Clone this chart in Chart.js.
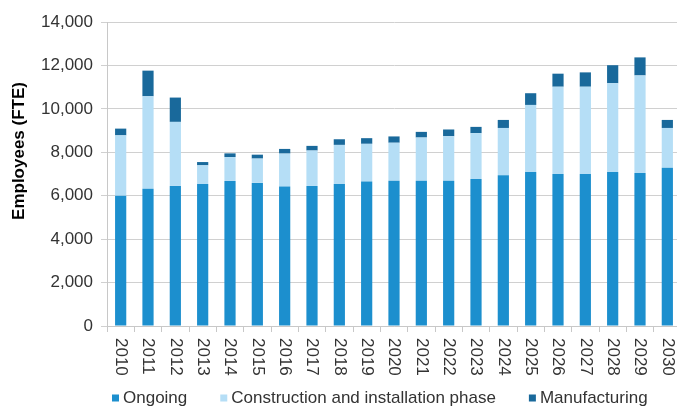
<!DOCTYPE html>
<html>
<head>
<meta charset="utf-8">
<script src="https://cdn.jsdelivr.net/npm/chart.js@4"></script>
<style>
  html, body { margin: 0; padding: 0; background: #fff; overflow: hidden; }
  #wrap { width: 677px; height: 408px; overflow: hidden; }
</style>
</head>
<body>
<div id="wrap"><canvas id="chart" width="681" height="408"></canvas></div>
<script>
// years on the category axis
var years = ['2010','2011','2012','2013','2014','2015','2016','2017','2018','2019','2020',
             '2021','2022','2023','2024','2025','2026','2027','2028','2029','2030'];
// employees (FTE) per year
var ongoing = [6000,6320,6450,6540,6680,6590,6420,6450,6540,6650,6690,6690,6690,6770,6940,7090,7000,7000,7090,7050,7290];
var construction = [2780,4260,2950,860,1100,1120,1520,1630,1800,1740,1750,1990,2050,2110,2180,3090,4020,4020,4090,4490,1830];
var manufacturing = [310,1180,1120,150,170,180,215,215,260,260,290,260,310,290,370,540,600,660,830,830,370];
var yTicks = [0,2000,4000,6000,8000,10000,12000,14000];
var yTitle = 'Employees (FTE)';

var FONT = "'Liberation Sans', Arial, sans-serif";
var textColor = '#333333';

// x labels read top-to-bottom, y title a bit above centre, legend under the plot
var extraText = {
  id: 'extraText',
  afterDraw: function(chart) {
    var ctx = chart.ctx;
    var xs = chart.scales.x;
    var area = chart.chartArea;
    ctx.save();
    ctx.fillStyle = textColor;
    ctx.font = '17px ' + FONT;
    ctx.textAlign = 'left';
    ctx.textBaseline = 'middle';
    for (var i = 0; i < years.length; i++) {
      ctx.save();
      ctx.translate(xs.getPixelForTick(i), xs.top + 12);
      ctx.rotate(Math.PI / 2);
      ctx.fillText(years[i], 0, 0);
      ctx.restore();
    }

    // legend
    var x = area.left + 5;
    var y = chart.height - 10;
    chart.data.datasets.forEach(function(ds) {
      ctx.fillStyle = ds.backgroundColor;
      ctx.fillRect(x, y - 3.5, 7, 7);
      x += 11;
      ctx.fillStyle = textColor;
      ctx.fillText(ds.label, x, y);
      x += ctx.measureText(ds.label).width + 33;
    });

    ctx.font = 'bold 17px ' + FONT;
    ctx.fillStyle = '#000';
    ctx.textAlign = 'center';
    ctx.translate(19, 151);
    ctx.rotate(-Math.PI / 2);
    ctx.fillText(yTitle, 0, 0);
    ctx.restore();
  }
};

const CHART = document.getElementById('chart');
var barChart = new Chart(CHART, {
  type: 'bar',
  data: {
    labels: years,
    datasets: [
      { label: 'Ongoing', data: ongoing, backgroundColor: '#1C8FCE' },
      { label: 'Construction and installation phase', data: construction, backgroundColor: '#B5DEF6' },
      { label: 'Manufacturing', data: manufacturing, backgroundColor: '#19699B' }
    ]
  },
  options: {
    responsive: false,
    animation: false,
    layout: { padding: { top: 22, left: 0, right: 0, bottom: 24 } },
    datasets: { bar: { categoryPercentage: 1, barPercentage: 0.41 } },
    scales: {
      x: {
        stacked: true,
        grid: { display: true, drawOnChartArea: false, offset: true, color: '#c8c8c8', tickLength: 6 },
        border: { color: '#c8c8c8' },
        ticks: { display: false },
        afterFit: function(s) { s.height = 58; }
      },
      y: {
        stacked: true,
        min: 0,
        max: 14000,
        afterBuildTicks: function(s) { s.ticks = yTicks.map(function(v) { return { value: v }; }); },
        grid: { color: '#d0d0d0', tickLength: 6 },
        border: { color: '#c8c8c8' },
        ticks: {
          color: textColor,
          font: { family: FONT, size: 17 },
          padding: 8,
          callback: function(v) { return v.toLocaleString('en-US'); }
        },
        afterFit: function(s) { s.width = 107; }
      }
    },
    plugins: {
      legend: { display: false },
      tooltip: { enabled: false }
    }
  },
  plugins: [extraText]
});
</script>
</body>
</html>
